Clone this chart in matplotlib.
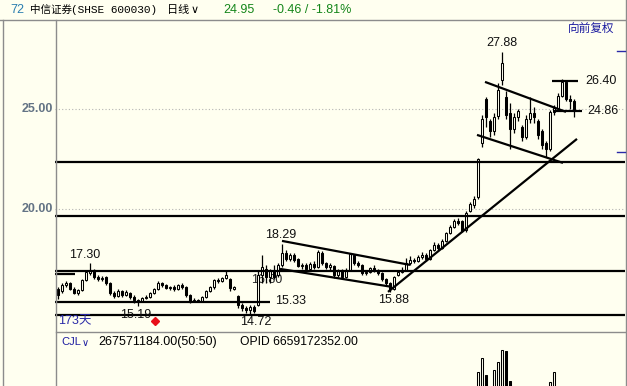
import matplotlib
matplotlib.use("Agg")
import matplotlib.pyplot as plt
from matplotlib.lines import Line2D

# daily candles, 中信证券 600030
opens = [16.0, 15.9, 16.2, 16.3, 16.0, 15.8, 15.95, 16.45, 16.8, 16.95,
         16.6, 16.5, 16.6, 16.3, 15.8, 15.65, 15.9, 15.7, 15.8, 15.6,
         15.45, 15.4, 15.55, 15.6, 15.8, 16.0, 16.3, 16.2, 16.05, 16.1,
         16.0, 16.2, 16.1, 15.7, 15.4, 15.45, 15.4, 15.6, 15.9, 16.1,
         16.45, 16.4, 16.55, 16.5, 16.0, 15.65, 15.2, 15.05, 14.95, 15.1,
         15.2, 16.7, 17.0, 16.6, 16.9, 16.7, 17.2, 17.8, 17.5, 17.7,
         17.5, 17.15, 17.2, 17.0, 17.25, 17.1, 17.8, 17.3, 17.1, 17.15,
         16.7, 16.9, 16.6, 16.95, 17.7, 17.3, 17.2, 16.8, 16.85, 17.05,
         16.95, 16.8, 16.5, 16.3, 16.0, 16.7, 16.85, 16.95, 17.3, 17.45,
         17.4, 17.6, 17.7, 17.5, 17.95, 18.2, 18.05, 18.4, 18.8, 19.1,
         19.4, 19.4, 18.95, 19.9, 20.2, 20.6, 23.3, 25.5, 24.4, 23.9,
         24.65, 26.45, 25.6, 24.8, 24.0, 24.6, 24.1, 23.6, 24.5, 24.8,
         24.4, 23.9, 23.3, 23.0, 24.85, 25.05, 25.65, 26.35, 25.5, 25.41]
highs = [16.1, 16.3, 16.4, 16.35, 16.1, 16.0, 16.5, 16.95, 17.30, 17.0,
         16.7, 16.65, 16.65, 16.35, 15.9, 16.0, 15.95, 15.95, 15.85, 15.7,
         15.5, 15.6, 15.7, 15.85, 16.05, 16.4, 16.35, 16.25, 16.15, 16.2,
         16.25, 16.3, 16.15, 15.75, 15.55, 15.5, 15.65, 15.95, 16.15, 16.5,
         16.55, 16.6, 16.95, 16.55, 16.15, 15.7, 15.3, 15.15, 15.2, 15.2,
         16.9, 17.7, 17.2, 17.0, 17.2, 17.3, 18.29, 17.95, 17.8, 17.8,
         17.55, 17.3, 17.3, 17.35, 17.4, 17.95, 17.9, 17.35, 17.3, 17.2,
         17.0, 17.0, 17.05, 17.8, 17.75, 17.4, 17.25, 16.95, 17.1, 17.2,
         17.0, 16.85, 16.55, 16.35, 16.65, 16.95, 17.1, 17.55, 17.65, 17.55,
         17.7, 17.85, 17.8, 18.0, 18.35, 18.3, 18.5, 18.85, 19.2, 19.5,
         19.55, 19.45, 19.9, 20.35, 20.65, 22.55, 24.7, 25.6, 24.5, 24.8,
         26.3, 27.88, 25.9, 25.3, 24.8, 25.0, 24.2, 24.7, 25.6, 25.1,
         24.5, 24.0, 23.4, 24.95, 25.2, 25.8, 26.5, 26.45, 25.7, 25.5]
lows = [15.5, 15.8, 16.1, 15.95, 15.75, 15.7, 15.9, 16.4, 16.7, 16.5,
        16.4, 16.4, 16.2, 15.7, 15.55, 15.6, 15.6, 15.65, 15.5, 15.3,
        15.19, 15.35, 15.5, 15.55, 15.75, 15.95, 16.1, 16.0, 15.95, 15.9,
        15.95, 16.0, 15.6, 15.3, 15.35, 15.35, 15.35, 15.55, 15.85, 16.0,
        16.3, 16.35, 16.5, 15.9, 15.95, 15.05, 14.9, 14.8, 14.72, 14.8,
        15.15, 16.3, 16.3, 16.3, 16.5, 16.6, 17.1, 17.4, 17.4, 17.35,
        17.1, 17.0, 16.95, 16.95, 17.0, 17.05, 17.2, 17.0, 16.95, 16.55,
        16.6, 16.5, 16.55, 16.9, 17.2, 17.1, 16.7, 16.7, 16.8, 16.85,
        16.7, 16.4, 16.2, 15.88, 15.95, 16.65, 16.8, 16.9, 17.2, 17.3,
        17.35, 17.5, 17.4, 17.45, 17.9, 17.95, 18.0, 18.35, 18.75, 19.05,
        19.2, 18.85, 18.85, 19.85, 20.05, 20.5, 23.1, 24.1, 23.6, 23.7,
        24.5, 26.2, 24.5, 23.0, 23.8, 24.4, 23.4, 23.5, 24.3, 24.3,
        23.5, 23.0, 22.6, 22.9, 24.7, 25.0, 25.6, 25.4, 25.0, 24.6]
closes = [15.7, 16.2, 16.3, 16.0, 15.8, 15.95, 16.45, 16.85, 16.95, 16.6,
          16.5, 16.55, 16.3, 15.8, 15.65, 15.9, 15.7, 15.85, 15.6, 15.45,
          15.4, 15.55, 15.6, 15.8, 16.0, 16.3, 16.2, 16.05, 16.1, 16.0,
          16.2, 16.1, 15.7, 15.4, 15.45, 15.4, 15.6, 15.9, 16.1, 16.45,
          16.4, 16.55, 16.7, 16.05, 16.1, 15.2, 15.05, 14.95, 15.1, 14.9,
          16.7, 17.1, 16.6, 16.9, 16.6, 17.2, 17.8, 17.5, 17.7, 17.45,
          17.15, 17.2, 17.0, 17.25, 17.1, 17.85, 17.3, 17.1, 17.2, 16.7,
          16.9, 16.6, 16.95, 17.75, 17.3, 17.2, 16.8, 16.85, 17.05, 16.95,
          16.8, 16.5, 16.3, 16.0, 16.6, 16.85, 16.95, 17.3, 17.45, 17.4,
          17.6, 17.7, 17.5, 17.95, 18.2, 18.05, 18.4, 18.8, 19.1, 19.4,
          19.3, 18.9, 19.8, 20.25, 20.5, 22.5, 24.5, 24.6, 23.9, 24.6,
          25.95, 27.3, 24.7, 24.0, 24.6, 24.9, 23.6, 24.5, 24.8, 24.6,
          23.7, 23.2, 23.0, 24.85, 25.05, 25.65, 26.35, 25.5, 25.4, 24.95]
# volume, million shares (only the big days reach into the visible strip)
volumes = [180, 160, 150, 170, 150, 140, 200, 260, 300, 220,
           180, 160, 170, 210, 190, 160, 150, 140, 160, 170,
           150, 140, 130, 150, 170, 200, 170, 150, 140, 140,
           150, 140, 190, 210, 160, 140, 150, 180, 190, 230,
           200, 190, 250, 240, 170, 260, 230, 200, 210, 190,
           390, 380, 300, 260, 250, 290, 400, 330, 270, 250,
           240, 210, 200, 220, 200, 300, 280, 220, 200, 230,
           200, 210, 210, 290, 260, 220, 230, 190, 200, 210,
           190, 200, 220, 240, 260, 250, 240, 300, 280, 250,
           260, 270, 250, 300, 330, 280, 320, 360, 380, 400,
           340, 380, 400, 390, 410, 588, 756, 552, 400, 612,
           708, 852, 840, 480, 380, 340, 360, 330, 350, 320,
           340, 360, 380, 468, 588, 410, 390, 400, 330, 268]

# support / resistance levels and drawn trend lines (index, price)
levels = [22.38, 19.67, 16.93, 14.72]
short_levels = [(15.37, -0.75, 53.0), (16.79, -0.75, 4.25),
                (26.40, 123.5, 130.0), (24.90, 123.75, 131.0)]
trend_lines = [((82.5, 15.87), (129.75, 23.52)),
               ((56.0, 18.42), (88.0, 17.22)),
               ((55.5, 17.02), (83.5, 16.12)),
               ((106.75, 26.37), (127.0, 24.87)),
               ((104.75, 23.72), (126.25, 22.32))]

BG = "#fffff0"
W, H = 627, 386


def fx(x):
    return x / W


def fy(y):
    return 1 - y / H


def price_at(y):
    # 20 px per yuan, 25.00 sits at y=109.3
    return 25 - (y - 109.3) / 20


fig = plt.figure(figsize=(W / 100, H / 100), dpi=100, facecolor=BG)

ax = fig.add_axes([fx(55), fy(332), fx(625) - fx(55), fy(20) - fy(332)])
ax.set_xlim(-0.75, 141.75)
ax.set_ylim(price_at(332), price_at(20))
ax.axis("off")

# dotted grid at 20 / 25
for g in [20, 25]:
    ax.axhline(g, color="#b4b4b4", lw=0.8, ls=(0, (1, 2)), zorder=1)

# level label mostly hidden behind the candles
ax.text(52.25, 16.45, "16.80", fontsize=9, family="Liberation Sans",
        ha="center", va="center", color="#222222", zorder=2)

# candles
for i in range(len(closes)):
    o, h, l, c = opens[i], highs[i], lows[i], closes[i]
    ax.vlines(i, l, h, color="black", lw=0.9, zorder=3)
    up = c >= o
    ax.bar(i, max(abs(c - o), 0.02), bottom=min(o, c), width=0.7,
           facecolor=BG if up else "black", edgecolor="black",
           linewidth=0.75, zorder=4)

for lv in levels:
    ax.axhline(lv, color="black", lw=1.6, zorder=5)
for lv, x0, x1 in short_levels:
    ax.hlines(lv, x0, x1, color="black", lw=1.6, zorder=5)
for (x0, y0), (x1, y1) in trend_lines:
    ax.plot([x0, x1], [y0, y1], color="black", lw=1.6, zorder=5,
            solid_capstyle="butt")

lab = dict(fontsize=9, family="Liberation Sans", ha="center", va="center",
           color="#111111", zorder=6)
ax.text(6.75, 17.74, "17.30", **lab)
ax.text(19.5, 14.72, "15.19", **lab)
ax.text(49.5, 14.37, "14.72", **lab)
ax.text(58.25, 15.39, "15.33", **lab)
ax.text(55.75, 18.72, "18.29", **lab)
ax.text(84.0, 15.47, "15.88", **lab)
ax.text(111.0, 28.32, "27.88", **lab)
ax.text(135.75, 26.42, "26.40", **lab)
ax.text(136.25, 24.89, "24.86", **lab)
ax.plot(24.25, 14.42, marker="D", ms=4.5, color="#e8101a", mec="#e8101a",
        zorder=6, clip_on=False)
ax.text(0.0, 14.38, "173天", fontsize=9, ha="left", va="center",
        family=["Liberation Sans", "Noto Sans CJK SC"], color="#2a2aa8",
        zorder=6)

# volume strip
vax = fig.add_axes([fx(55), 0, fx(625) - fx(55), fy(332)])
vax.set_xlim(-0.75, 141.75)
vax.set_ylim(420, 1068)
vax.axis("off")
for i in range(len(volumes)):
    up = closes[i] >= opens[i]
    vax.bar(i, volumes[i], width=0.7, facecolor=BG if up else "black",
            edgecolor="black", linewidth=0.75)

# frame lines
grey = "#8c8c8c"
for (x0, y0, x1, y1) in [(0, 19.5, 625, 19.5), (2.5, 19.5, 2.5, 386),
                         (55.5, 19.5, 55.5, 386), (625.5, 0, 625.5, 386),
                         (55.5, 332, 625, 332)]:
    fig.add_artist(Line2D([fx(x0), fx(x1)], [fy(y0), fy(y1)], color=grey, lw=1))

# right edge marks
for yy in [51, 152]:
    fig.add_artist(Line2D([fx(617), fx(625)], [fy(yy), fy(yy)], color="#2a2aa8", lw=1))

# y labels
for val, yy in [("25.00", 109.3), ("20.00", 209.3)]:
    fig.text(fx(53), fy(yy), val, ha="right", va="center", fontsize=9,
             family="Liberation Sans", color="#637385", weight="bold")

# header
cjk = ["Noto Sans CJK SC", "DejaVu Sans"]
fig.text(fx(10), fy(10), "72", fontsize=9, family="Liberation Sans",
         color="#2b7fb0", va="center")
fig.text(fx(30), fy(10), "中信证券", fontsize=7.6, family=cjk, va="center")
fig.text(fx(71), fy(10), "(SHSE 600030)", fontsize=8, family="Liberation Mono",
         va="center")
fig.text(fx(167), fy(10), "日线", fontsize=8, family=cjk, va="center")
fig.text(fx(191), fy(10), "∨", fontsize=8, family="DejaVu Sans", va="center")
fig.text(fx(223), fy(10), "24.95", fontsize=9, family="Liberation Sans",
         color="#14861a", va="center")
fig.text(fx(273), fy(10), "-0.46 / -1.81%", fontsize=9, family="Liberation Sans",
         color="#14861a", va="center")
fig.text(fx(568), fy(28), "向前复权", fontsize=8.4, family=cjk, color="#1c1ca0",
         va="center")

# volume header
fig.text(fx(61), fy(342), "CJL", fontsize=8, family="Liberation Sans",
         color="#1c1ca0", va="center")
fig.text(fx(82), fy(343), "∨", fontsize=7, family="DejaVu Sans",
         color="#1c1ca0", va="center")
fig.text(fx(98), fy(342), "267571184.00(50:50)", fontsize=9,
         family="Liberation Sans", va="center")
fig.text(fx(240), fy(342), "OPID 6659172352.00", fontsize=8.7,
         family="Liberation Sans", va="center")

fig.savefig("out.png", dpi=100, facecolor=BG)
